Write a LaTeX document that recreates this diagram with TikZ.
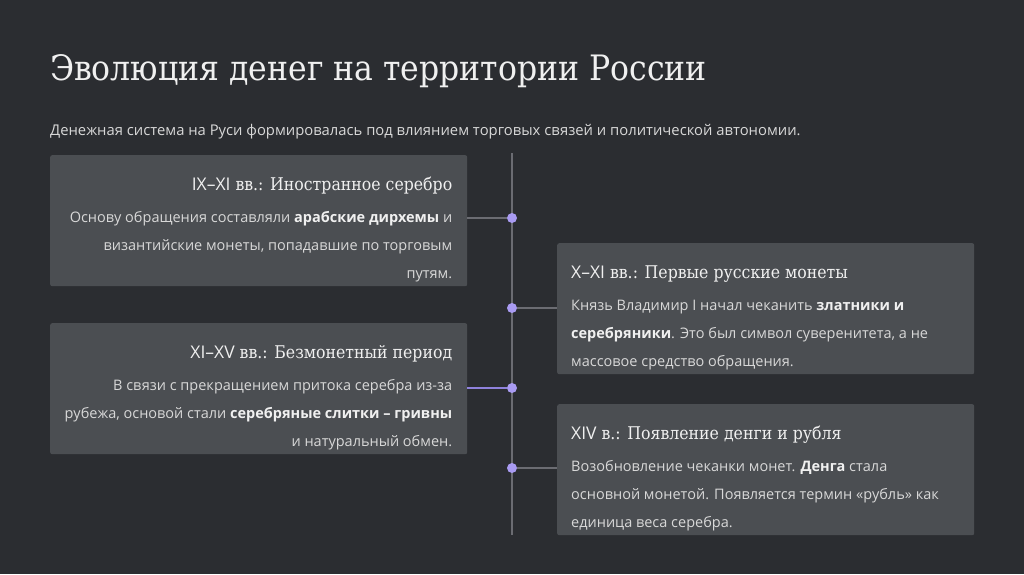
\documentclass[tikz,border=0pt]{standalone}
\usepackage{fontspec}
\setmainfont{DejaVu Serif Condensed}
\setsansfont{Open Sans}
\usetikzlibrary{positioning}
\definecolor{bgdark}{HTML}{2B2D31}
\definecolor{cardgray}{HTML}{4B4E52}
\definecolor{spinegray}{HTML}{6B6C72}
\definecolor{lavender}{HTML}{A99BF2}
\definecolor{linkviolet}{HTML}{8F82DC}
\definecolor{txtlight}{HTML}{D8D8D8}
\definecolor{txtwhite}{HTML}{F0F0F0}

\begin{document}
\begin{tikzpicture}[x=1pt, y=-1pt,
  card/.style={fill=cardgray, rounded corners=2pt, minimum width=417pt,
               minimum height=131pt, inner sep=0pt, anchor=north west},
  head/.style={font=\fontsize{17.5}{21}\selectfont, text=txtwhite, inner sep=0pt},
  body/.style={font=\sffamily\fontsize{14.5}{28}\selectfont, text=txtlight, inner sep=0pt},
  dot/.style={circle, fill=lavender, minimum size=10pt, inner sep=0pt},
  link/.style={draw=spinegray, line width=1.5pt},
]
\fill[bgdark] (0,0) rectangle (1024,574);
\useasboundingbox (0,0) rectangle (1024,574);

% title and lead
\node[anchor=base west, inner sep=0pt, text=txtwhite,
      font=\fontsize{35}{42}\selectfont] (title) at (50,80)
     {Эволюция денег на территории России};
\node[anchor=base west, inner sep=0pt, text=txtlight,
      font=\sffamily\fontsize{14.8}{17}\selectfont] (lead) at (50,135)
     {Денежная система на Руси формировалась под влиянием торговых связей и политической автономии.};

% timeline
\coordinate (spine-top) at (512,153);
\coordinate (spine-bot) at (512,535);
\draw[spinegray, line width=1.5pt] (spine-top) -- (spine-bot);

% cards
\node[card] (card-ix) at (50,155) {};
\node[head, anchor=base east] at ([xshift=-15pt,yshift=-35pt]card-ix.north east)
     {{\sffamily IX–XI} вв.: Иностранное серебро};
\node[body, anchor=north east, align=right] at ([xshift=-15pt,yshift=-48pt]card-ix.north east)
     {\strut Основу обращения составляли \textbf{\color{txtwhite}арабские дирхемы} и\\
      византийские монеты, попадавшие по торговым\\ путям.};

\node[card] (card-x) at (557,243) {};
\node[head, anchor=base west] at ([xshift=14pt,yshift=-35pt]card-x.north west)
     {{\sffamily X–XI} вв.: Первые русские монеты};
\node[body, anchor=north west, align=left] at ([xshift=14pt,yshift=-48pt]card-x.north west)
     {\strut Князь Владимир I начал чеканить \textbf{\color{txtwhite}златники и}\\
      \textbf{\color{txtwhite}серебряники}. Это был символ суверенитета, а не\\
      массовое средство обращения.};

\node[card] (card-xi) at (50,323) {};
\node[head, anchor=base east] at ([xshift=-15pt,yshift=-35pt]card-xi.north east)
     {{\sffamily XI–XV} вв.: Безмонетный период};
\node[body, anchor=north east, align=right] at ([xshift=-15pt,yshift=-48pt]card-xi.north east)
     {\strut В связи с прекращением притока серебра из-за\\
      рубежа, основой стали \textbf{\color{txtwhite}серебряные слитки – гривны}\\
      и натуральный обмен.};

\node[card] (card-xiv) at (557,404) {};
\node[head, anchor=base west] at ([xshift=14pt,yshift=-35pt]card-xiv.north west)
     {{\sffamily XIV} в.: Появление денги и рубля};
\node[body, anchor=north west, align=left] at ([xshift=14pt,yshift=-48pt]card-xiv.north west)
     {\strut Возобновление чеканки монет. \textbf{\color{txtwhite}Денга} стала\\
      основной монетой. Появляется термин «рубль» как\\
      единица веса серебра.};

% dots and links
\node[dot] (dot-ix) at (512,218) {};
\node[dot] (dot-x) at (512,308) {};
\node[dot] (dot-xi) at (512,388) {};
\node[dot] (dot-xiv) at (512,468) {};
\draw[link] (card-ix.east |- dot-ix) -- (dot-ix);
\draw[link] (card-x.west |- dot-x) -- (dot-x);
\draw[link, draw=linkviolet] (card-xi.east |- dot-xi) -- (dot-xi);
\draw[link] (card-xiv.west |- dot-xiv) -- (dot-xiv);
\end{tikzpicture}
\end{document}
